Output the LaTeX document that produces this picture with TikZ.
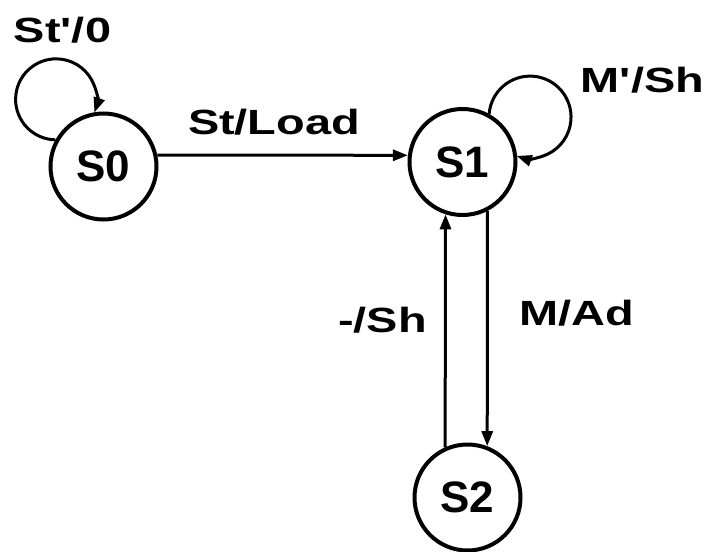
\documentclass[tikz,border=0pt]{standalone}
\usepackage{fontspec}
\setmainfont{Liberation Sans}
\usetikzlibrary{positioning,arrows.meta}

\begin{document}
\begin{tikzpicture}[
      x=1pt, y=1pt,
      state/.style={circle, draw, line width=4pt, minimum size=106pt, inner sep=0pt,
                    font=\fontsize{44}{50}\selectfont\bfseries},
      lbl/.style={inner sep=0pt, xscale=1.34, font=\fontsize{35}{40}\selectfont\bfseries},
      arr/.style={-{Triangle[length=15pt,width=11pt]}, line width=3pt}
  ]
    \useasboundingbox (0,0) rectangle (706,-551);
    \node[state] (s0) at (103.5,-166.5) {S0};
    \node[state, right=249pt of s0, yshift=4.5pt] (s1) {S1};
    \node[state, below=225.5pt of s1, xshift=5pt] (s2) {S2};
    % transitions
    \draw[arr] (s0.12) -- (s1.173);
    \draw[arr] (s2.114) -- (s1.252);
    \draw[arr] (s1.297) -- (s2.69);
    \draw[arr] (s0.151) arc[start angle=269, end angle=-19, radius=40.5pt];
    \draw[arr] (s1.61) arc[start angle=175.5, end angle=-109, radius=41pt];
    % labels
    \node[lbl] (stzero) at (62.5,-30.5) {St\textquotesingle/0};
    \node[lbl] (stload) at (274,-122.5) {St/Load};
    \node[lbl] (msh) at (642.5,-80) {M\textquotesingle/Sh};
    \node[lbl] (sh) at (382.5,-320) {-/Sh};
    \node[lbl] (mad) at (576.5,-313.5) {M/Ad};
  \end{tikzpicture}
\end{document}
